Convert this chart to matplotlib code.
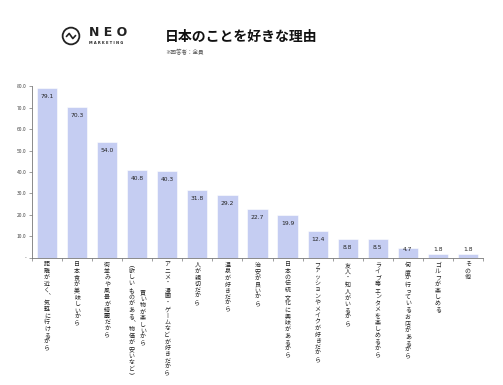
import matplotlib
matplotlib.use("Agg")
import matplotlib.pyplot as plt
import matplotlib.ticker as ticker
from matplotlib.patches import Circle

plt.rcParams['font.family'] = ['Noto Sans CJK JP', 'DejaVu Sans']

# data
reasons = [
    "距離が近く、気軽に行けるから",
    "日本食が美味しいから",
    "街並みや風景が綺麗だから",
    "買い物が楽しいから\n（欲しいものがある、物価が安いなど）",
    "アニメ・漫画・ゲームなどが好きだから",
    "人が親切だから",
    "温泉が好きだから",
    "治安が良いから",
    "日本の伝統文化に興味があるから",
    "ファッションやメイクが好きだから",
    "友人・知人がいるから",
    "ライブ等エンタメを楽しめるから",
    "何度か行っているお店があるから",
    "ゴルフが楽しめる",
    "その他",
]
share = [79.1, 70.3, 54.0, 40.8, 40.3, 31.8, 29.2, 22.7, 19.9, 12.4, 8.8, 8.5, 4.7, 1.8, 1.8]
yticks = [0, 10, 20, 30, 40, 50, 60, 70, 80]

title = "日本のことを好きな理由"
note = "※回答者：全員"

bar_color = "#c5cdf2"
pitch = 4.4      # points per character in vertical labels
fs_cat = 4.3

# vertical forms for tategaki
vmap = {"ー": "丨", "、": "︑", "（": "︵", "）": "︶"}
def tate(s):
    return "\n".join(vmap.get(c, c) for c in s)

fig = plt.figure(figsize=(5.03, 3.85), dpi=100)
ax = fig.add_axes([32/503, 1 - 257.6/385, 451/503, (257.6 - 86.3)/385])

x = list(range(len(share)))
ax.bar(x, share, width=0.67, color=bar_color, edgecolor="white", linewidth=0.4, zorder=2)

for i, v in enumerate(share):
    ax.text(i, max(v - 4.0, 4.0), f"{v:.1f}", ha="center", va="center",
            fontsize=4.3, color="#222222", family="DejaVu Sans", zorder=3)

ax.set_xlim(-0.5, len(share) - 0.5)
ax.set_ylim(0, 80)
ax.set_yticks(yticks)
ax.yaxis.set_major_formatter(ticker.FuncFormatter(lambda v, p: "-" if v == 0 else f"{v:.1f}"))
ax.tick_params(axis="y", labelsize=3.6, labelcolor="#444444", length=2, width=0.5, color="#777777", pad=2)
ax.set_xticks([i - 0.5 for i in range(len(share) + 1)])
ax.set_xticklabels([])
ax.tick_params(axis="x", length=2, width=0.5, color="#777777")
for s in ["top", "right"]:
    ax.spines[s].set_visible(False)
for s in ["left", "bottom"]:
    ax.spines[s].set_color("#777777")
    ax.spines[s].set_linewidth(0.6)

# category labels written vertically, columns right to left
top_off = 3.5
for i, lab in enumerate(reasons):
    cols = lab.split("\n")
    n = len(cols)
    longest = max(len(c) for c in cols)
    for k, col in enumerate(cols):
        dx = ((n - 1) / 2 - k) * 8.0
        dy = -(top_off + (longest - len(col)) / 2 * pitch)
        ax.annotate(tate(col), xy=(i, 0), xycoords=("data", "axes fraction"),
                    xytext=(dx, dy), textcoords="offset points",
                    ha="center", va="top", fontsize=fs_cat, color="#222222",
                    linespacing=1.3, annotation_clip=False)

# header
fig.text(165/503, 1 - 37/385, title, fontsize=10, fontweight="bold", ha="left", va="center", color="#111111")
fig.text(165/503, 1 - 52/385, note, fontsize=4, ha="left", va="center", color="#555555")

# NEO MARKETING logo
lax = fig.add_axes([61/503, 1 - 46/385, 20/503, 20/385])
lax.set_xlim(-1.1, 1.1)
lax.set_ylim(-1.1, 1.1)
lax.set_aspect("equal")
lax.axis("off")
lax.add_patch(Circle((0, 0), 0.92, fill=False, lw=1.3, color="#222222"))
lax.plot([-0.5, -0.2, 0.2, 0.5], [-0.05, 0.28, -0.28, 0.05], color="#222222", lw=1.2,
         solid_joinstyle="round", solid_capstyle="round")
fig.text(89/503, 1 - 32/385, "N E O", fontsize=9, fontweight="bold", ha="left", va="center",
         color="#222222", family="DejaVu Sans")
fig.text(89/503, 1 - 43.5/385, "M A R K E T I N G", fontsize=2.6, fontweight="bold", ha="left",
         va="center", color="#222222", family="DejaVu Sans")

fig.savefig("out.png", dpi=100, facecolor="white")
